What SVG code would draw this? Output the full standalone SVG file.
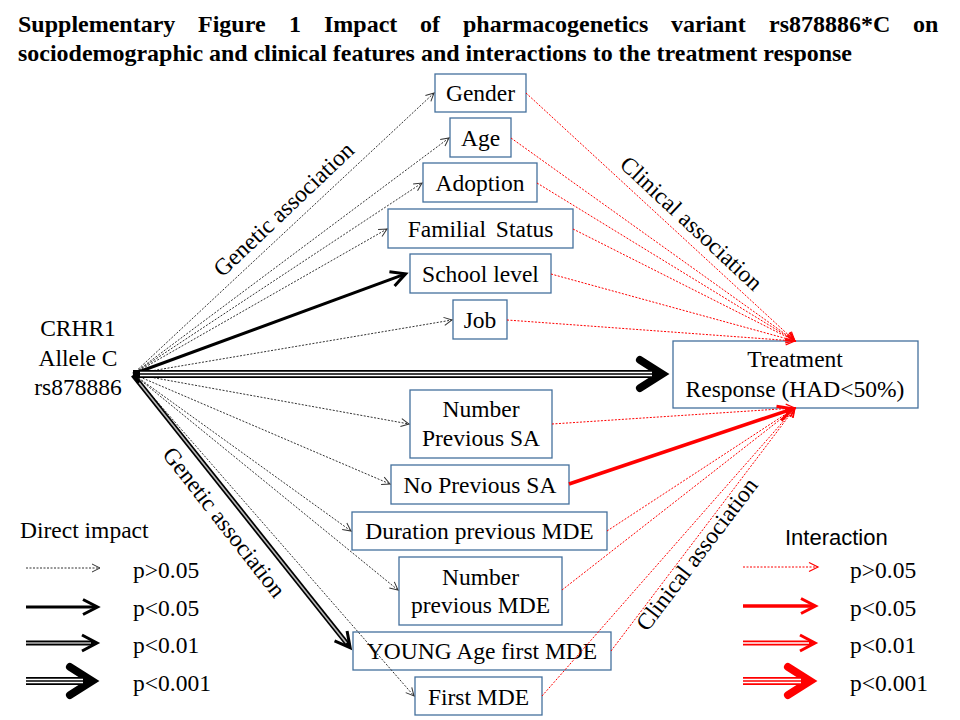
<svg xmlns="http://www.w3.org/2000/svg" width="960" height="720" viewBox="0 0 960 720">
<defs>
<style>
.t{font-family:"Liberation Serif","Times New Roman",serif;font-size:23.5px;fill:#000}
.ttl{font-family:"Liberation Serif","Times New Roman",serif;font-size:24px;font-weight:bold;fill:#000}
.sans{font-family:"Liberation Sans",Arial,sans-serif;font-size:22px;fill:#000}
.c{text-anchor:middle}
.box{fill:none;stroke:#44709d;stroke-width:1.3}
.dk{fill:none;stroke:#333;stroke-width:1;stroke-dasharray:2 1.5}
.rd{fill:none;stroke:#f00;stroke-width:1;stroke-dasharray:2 1.5}
.b3{fill:none;stroke:#000;stroke-width:3}
.r3{fill:none;stroke:#f00;stroke-width:3.5}
.b5{fill:none;stroke:#000;stroke-width:5}
.r5{fill:none;stroke:#f00;stroke-width:5}
.b8{fill:none;stroke:#000;stroke-width:8}
.r8{fill:none;stroke:#f00;stroke-width:8}
.g2{fill:none;stroke:#bbb;stroke-width:1.6}
.w2{fill:none;stroke:#fff;stroke-width:1.6}
.w4{fill:none;stroke:#fff;stroke-width:4.5}
.bl{fill:none;stroke:#000;stroke-width:1.5}
.rl{fill:none;stroke:#f00;stroke-width:1.5}
</style>
<marker id="mtk" markerUnits="userSpaceOnUse" orient="auto" viewBox="-40 -20 50 40" markerWidth="50" markerHeight="40" refX="0" refY="0" overflow="visible"><path d="M-8,-4 L0,0 L-8,4" fill="none" stroke="#333" stroke-width="1"/></marker>
<marker id="mtr" markerUnits="userSpaceOnUse" orient="auto" viewBox="-40 -20 50 40" markerWidth="50" markerHeight="40" refX="0" refY="0" overflow="visible"><path d="M-9,-4.5 L0,0 L-9,4.5" fill="none" stroke="#f00" stroke-width="1.2"/></marker>
<marker id="mbk" markerUnits="userSpaceOnUse" orient="auto" viewBox="-40 -20 50 40" markerWidth="50" markerHeight="40" refX="-4" refY="0" overflow="visible"><path d="M-17,-7.5 L-2.5,0 L-17,7.5" fill="none" stroke="#000" stroke-width="3"/></marker>
<marker id="mbr" markerUnits="userSpaceOnUse" orient="auto" viewBox="-40 -20 50 40" markerWidth="50" markerHeight="40" refX="-4" refY="0" overflow="visible"><path d="M-17,-7.5 L-2.5,0 L-17,7.5" fill="none" stroke="#f00" stroke-width="3"/></marker>
<marker id="mdk" markerUnits="userSpaceOnUse" orient="auto" viewBox="-40 -20 50 40" markerWidth="50" markerHeight="40" refX="-6" refY="0" overflow="visible"><path d="M-18,-8 L-3,0 L-18,8" fill="none" stroke="#000" stroke-width="3"/></marker>
<marker id="mdr" markerUnits="userSpaceOnUse" orient="auto" viewBox="-40 -20 50 40" markerWidth="50" markerHeight="40" refX="-6" refY="0" overflow="visible"><path d="M-18,-8 L-3,0 L-18,8" fill="none" stroke="#f00" stroke-width="3"/></marker>
<marker id="mxk" markerUnits="userSpaceOnUse" orient="auto" viewBox="-40 -20 50 40" markerWidth="50" markerHeight="40" refX="-14" refY="0" overflow="visible"><path d="M-30,-14 L-8,0 L-30,14" fill="none" stroke="#000" stroke-width="8" stroke-linecap="round"/></marker>
<marker id="mxr" markerUnits="userSpaceOnUse" orient="auto" viewBox="-40 -20 50 40" markerWidth="50" markerHeight="40" refX="-14" refY="0" overflow="visible"><path d="M-30,-14 L-8,0 L-30,14" fill="none" stroke="#f00" stroke-width="8" stroke-linecap="round"/></marker>
</defs>
<rect width="960" height="720" fill="#fff"/>

<g id="title">
<text class="ttl" y="32"><tspan x="18">Supplementary</tspan><tspan x="198">Figure</tspan><tspan x="289">1</tspan><tspan x="324">Impact</tspan><tspan x="420">of</tspan><tspan x="463">pharmacogenetics</tspan><tspan x="671">variant</tspan><tspan x="769">rs878886*C</tspan><tspan x="913">on</tspan></text>
<text class="ttl" x="18" y="61" textLength="834" lengthAdjust="spacingAndGlyphs">sociodemographic and clinical features and interactions to the treatment response</text>
</g>

<g id="source">
<text class="t c" x="78" y="336">CRHR1</text>
<text class="t c" x="78" y="366">Allele C</text>
<text class="t c" x="78" y="395">rs878886</text>
</g>

<g id="gender"><rect class="box" x="435" y="74" width="91" height="38"/><text class="t c" x="480.5" y="101">Gender</text></g>
<g id="age"><rect class="box" x="450" y="118" width="61" height="39"/><text class="t c" x="480.5" y="146">Age</text></g>
<g id="adoption"><rect class="box" x="423" y="163" width="114" height="39"/><text class="t c" x="480" y="191">Adoption</text></g>
<g id="familial"><rect class="box" x="388" y="209" width="185" height="39"/><text class="t c" x="480.5" y="237" word-spacing="4">Familial Status</text></g>
<g id="school"><rect class="box" x="410" y="254" width="141" height="39"/><text class="t c" x="480.5" y="282">School level</text></g>
<g id="job"><rect class="box" x="453" y="300" width="54" height="39"/><text class="t c" x="480" y="328">Job</text></g>
<g id="treatment"><rect class="box" x="673" y="341" width="245" height="67"/><text class="t c" x="795" y="367">Treatment</text><text class="t c" x="795" y="397">Response (HAD&lt;50%)</text></g>
<g id="numsa"><rect class="box" x="410" y="390" width="142" height="68"/><text class="t c" x="481" y="417">Number</text><text class="t c" x="481" y="446">Previous SA</text></g>
<g id="nosa"><rect class="box" x="391" y="465" width="178" height="39"/><text class="t c" x="480" y="493">No Previous SA</text></g>
<g id="duration"><rect class="box" x="352" y="512" width="255" height="38"/><text class="t c" x="479.5" y="539">Duration previous MDE</text></g>
<g id="nummde"><rect class="box" x="399" y="557" width="163" height="68"/><text class="t c" x="480.5" y="585">Number</text><text class="t c" x="480.5" y="613">previous MDE</text></g>
<g id="young"><rect class="box" x="353" y="632" width="258" height="38"/><text class="t c" x="482" y="659">YOUNG Age first MDE</text></g>
<g id="firstmde"><rect class="box" x="415" y="677" width="127" height="38"/><text class="t c" x="478.5" y="705">First MDE</text></g>

<g id="connectors">
<path class="dk" d="M133,374 L434,93" marker-end="url(#mtk)"/>
<path class="dk" d="M133,374 L449,138" marker-end="url(#mtk)"/>
<path class="dk" d="M133,374 L422,183" marker-end="url(#mtk)"/>
<path class="dk" d="M133,374 L387,229" marker-end="url(#mtk)"/>
<path class="dk" d="M133,374 L452,320" marker-end="url(#mtk)"/>
<path class="dk" d="M133,374 L409,424" marker-end="url(#mtk)"/>
<path class="dk" d="M133,374 L390,484" marker-end="url(#mtk)"/>
<path class="dk" d="M133,374 L351,531" marker-end="url(#mtk)"/>
<path class="dk" d="M133,374 L398,590" marker-end="url(#mtk)"/>
<path class="dk" d="M133,374 L414,696" marker-end="url(#mtk)"/>
<path class="b3" d="M133,374 L404.2,274.4" marker-end="url(#mbk)"/>
<path class="b5" d="M133,375 L348.3,645.3" marker-end="url(#mdk)"/>
<path class="g2" d="M139.2,382.8 L346.4,642.9"/>
<path class="b8" d="M133,374 L656,374" marker-end="url(#mxk)"/>
<path class="w4" d="M140,374 L652,374"/>
<path class="bl" d="M140,374 L652,374"/>

<path class="rd" d="M526,93 L795,341" marker-end="url(#mtr)"/>
<path class="rd" d="M511,138 L795,341" marker-end="url(#mtr)"/>
<path class="rd" d="M537,183 L795,341" marker-end="url(#mtr)"/>
<path class="rd" d="M573,229 L795,341" marker-end="url(#mtr)"/>
<path class="rd" d="M551,274 L795,341" marker-end="url(#mtr)"/>
<path class="rd" d="M507,320 L795,341" marker-end="url(#mtr)"/>
<path class="rd" d="M552,424 L795,408" marker-end="url(#mtr)"/>
<path class="rd" d="M607,531 L795,408" marker-end="url(#mtr)"/>
<path class="rd" d="M562,590 L795,408" marker-end="url(#mtr)"/>
<path class="rd" d="M611,651 L795,408" marker-end="url(#mtr)"/>
<path class="rd" d="M542,696 L795,408" marker-end="url(#mtr)"/>
<path class="r3" d="M569,484 L791.2,409.3" marker-end="url(#mbr)"/>
</g>

<g id="labels">
<text class="t c" transform="translate(289,215) rotate(-43.5)">Genetic association</text>
<text class="t c" transform="translate(686,229) rotate(43)">Clinical association</text>
<text class="t c" transform="translate(218,527) rotate(52)">Genetic association</text>
<text class="t c" transform="translate(703,559) rotate(-52.8)">Clinical association</text>
</g>

<g id="legend-direct">
<text class="t" x="20" y="538">Direct impact</text>
<path class="dk" d="M26,568 L100,568" marker-end="url(#mtk)"/>
<path class="b3" d="M26,607 L96,607" marker-end="url(#mbk)"/>
<path class="b5" d="M26,643 L94,643" marker-end="url(#mdk)"/>
<path class="g2" d="M26,643 L91,643"/>
<path class="b8" d="M26,681 L86,681" marker-end="url(#mxk)"/>
<path class="w4" d="M26,681 L83,681"/>
<path class="bl" d="M26,681 L83,681"/>
<text class="t" x="133" y="578">p&gt;0.05</text>
<text class="t" x="133" y="616">p&lt;0.05</text>
<text class="t" x="133" y="653">p&lt;0.01</text>
<text class="t" x="133" y="691">p&lt;0.001</text>
</g>

<g id="legend-interaction">
<text class="sans" x="785" y="545">Interaction</text>
<path class="rd" d="M743,567 L818,567" marker-end="url(#mtr)"/>
<path class="r3" d="M743,606 L814,606" marker-end="url(#mbr)"/>
<path class="r5" d="M743,643 L812,643" marker-end="url(#mdr)"/>
<path class="w2" d="M743,643 L809,643"/>
<path class="r8" d="M743,681 L804,681" marker-end="url(#mxr)"/>
<path class="w4" d="M743,681 L801,681"/>
<path class="rl" d="M743,681 L801,681"/>
<text class="t" x="850" y="578">p&gt;0.05</text>
<text class="t" x="850" y="616">p&lt;0.05</text>
<text class="t" x="850" y="653">p&lt;0.01</text>
<text class="t" x="850" y="691">p&lt;0.001</text>
</g>
</svg>
